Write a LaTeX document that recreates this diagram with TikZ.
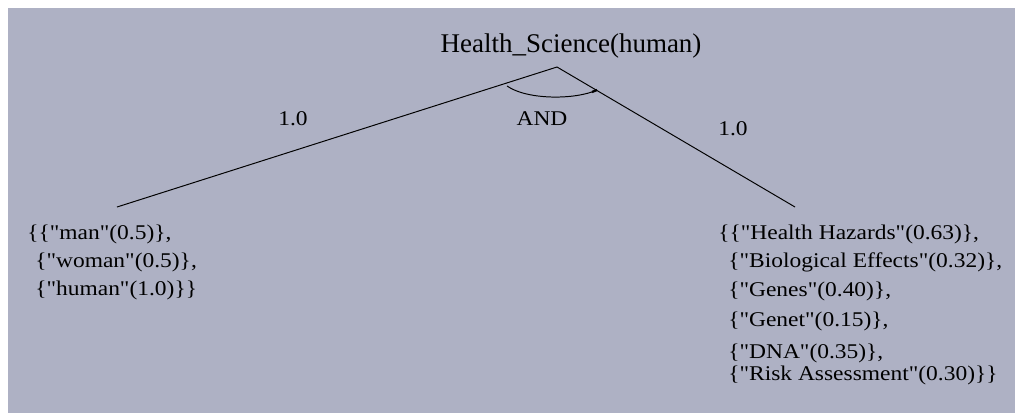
\documentclass[tikz,border=0pt]{standalone}
\usepackage{fontspec}
\setmainfont{Liberation Serif}
\newfontfamily\treefont[FakeStretch=1.12]{Liberation Serif}
\usetikzlibrary{calc}
\definecolor{panelgray}{RGB}{174,177,196}
\tikzset{
    settext/.style={anchor=base west,inner sep=0pt,font=\treefont\fontsize{14.9pt}{16pt}\selectfont},
    wtext/.style={anchor=base,inner sep=0pt,font=\treefont\fontsize{14.9pt}{16pt}\selectfont},
    roottext/.style={anchor=base,inner sep=0pt,font=\fontsize{19.2pt}{21pt}\selectfont},
    edge/.style={line width=0.7pt}
}
\begin{document}
\begin{tikzpicture}[x=0.025cm,y=-0.025cm]
                        \useasboundingbox (0,0) rectangle (1018,416);
                        \fill[white] (0,0) rectangle (1018,416);
                        \fill[panelgray] (8,8) rectangle (1015,413);
                        \node[roottext] (root) at (571,52) {Health\_Science(human)};
                        \coordinate (apex) at (557,67);
                        \coordinate (lend) at (117,207);
                        \coordinate (rend) at (795,207);
                        \coordinate (arcl) at (507,86);
                        \coordinate (arcr) at (597,90);
                        \draw[edge] (apex) -- (lend);
                        \draw[edge] (apex) -- (rend);
                        \draw[edge] (arcl) .. controls (527,100) and (575,100) .. (arcr);
                        \draw[line width=1.6pt] (arcr) -- ++(-5,2);
                        \node[wtext] (and) at (542,125) {AND};
                        \node[wtext] (wl) at (293,125) {1.0};
                        \node[wtext] (wr) at (733,135) {1.0};
                        \node[settext] (lset1) at (27,239) {\{\{"man"(0.5)\},};
                        \node[settext] (lset2) at (35,267) {\{"woman"(0.5)\},};
                        \node[settext] (lset3) at (35,295) {\{"human"(1.0)\}\}};
                        \node[settext] (rset1) at (718,239) {\{\{"Health Hazards"(0.63)\},};
                        \node[settext] (rset2) at (728,267) {\{"Biological Effects"(0.32)\},};
                        \node[settext] (rset3) at (728,296) {\{"Genes"(0.40)\},};
                        \node[settext] (rset4) at (728,326) {\{"Genet"(0.15)\},};
                        \node[settext] (rset5) at (728,358) {\{"DNA"(0.35)\},};
                        \node[settext] (rset6) at (728,380) {\{"Risk Assessment"(0.30)\}\}};
                    \end{tikzpicture}
\end{document}
